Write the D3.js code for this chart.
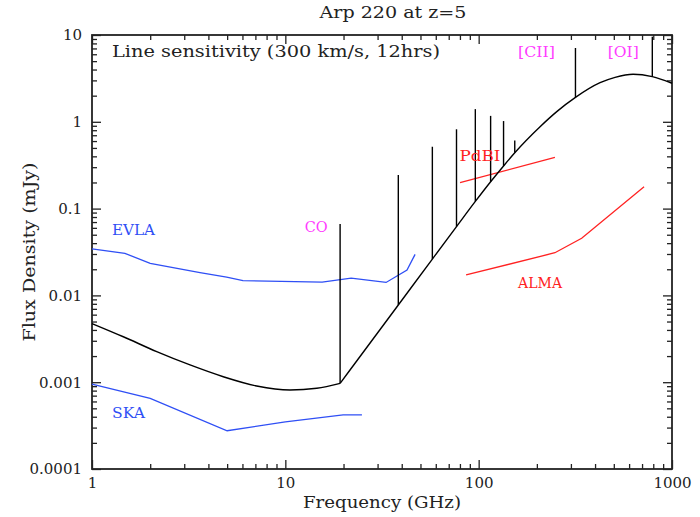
<!DOCTYPE html>
<html>
<head>
<meta charset="utf-8">
<script src="https://d3js.org/d3.v7.min.js"></script>
<style>
  body { margin: 0; background: #fff; }
  svg text { font-family: "DejaVu Serif", serif; }
</style>
</head>
<body>
<div id="chart"></div>
<script>
// continuum of Arp 220 redshifted to z=5 : [GHz, mJy]
var continuum = [
  [1, 0.00474], [1.452, 0.00334], [2.161, 0.00225], [3.214, 0.00158], [4.778, 0.001156],
  [7.11, 0.000904], [10.57, 0.000813], [14.54, 0.000851], [19.2, 0.00097],
  [38.4, 0.00776], [57.6, 0.0262], [76.8, 0.062], [96.1, 0.121], [115.3, 0.204],
  [134.5, 0.31], [153.7, 0.44], [207.8, 0.878], [253.5, 1.31], [316.7, 1.91],
  [424.6, 2.82], [507.6, 3.25], [629, 3.53], [790.9, 3.31], [1000, 2.78]
];

// line peaks : [GHz, mJy]  (CO ladder, [CII], [OI])
var lines = [
  [19.2, 0.0665], [38.4, 0.244], [57.6, 0.516], [76.8, 0.82], [96.1, 1.40],
  [115.3, 1.17], [134.5, 1.02], [153.7, 0.61], [316.7, 7.08], [790.9, 9.56]
];

var evla = [
  [1, 0.0343], [1.48, 0.0305], [2, 0.0234], [3.62, 0.0183], [4.97, 0.0162],
  [6.04, 0.0148], [15.5, 0.0142], [21.9, 0.0158], [33.2, 0.0141], [42.6, 0.0196],
  [46.9, 0.0297]
];
var ska = [[1, 0.00095], [2, 0.00065], [5, 0.000276], [10, 0.00035], [19.9, 0.00042], [24.9, 0.00042]];
var pdbi = [[80.1, 0.199], [248, 0.39]];
var alma = [[86.1, 0.0172], [248, 0.031], [341, 0.0455], [717, 0.179]];

var xMajor = [1, 10, 100, 1000];
var xLabels = ["1", "10", "100", "1000"];
var yMajor = [0.0001, 0.001, 0.01, 0.1, 1, 10];
var yLabels = ["0.0001", "0.001", "0.01", "0.1", "1", "10"];

var margin = {top: 35, right: 28, bottom: 48, left: 92},
    width = 700 - margin.left - margin.right,
    height = 517 - margin.top - margin.bottom;

var svg = d3.select("#chart").append("svg")
  .attr("width", 700)
  .attr("height", 517);

var g = svg.append("g")
  .attr("transform", "translate(" + margin.left + "," + margin.top + ")");

var x = d3.scaleLog().domain([1, 1000]).range([0, width]);
var y = d3.scaleLog().domain([0.0001, 10]).range([height, 0]);

var xMinor = x.ticks().filter(function(d) { return xMajor.indexOf(d) < 0; });
var yMinor = y.ticks().filter(function(d) { return yMajor.map(String).indexOf(String(+d.toPrecision(3))) < 0; });

function styleAxis(sel) {
  sel.select(".domain").remove();
  sel.selectAll(".tick line").attr("stroke", "#222").attr("stroke-width", 1.3);
  sel.selectAll("text").attr("fill", "#222").style("font-size", "15px")
    .style("font-family", "DejaVu Serif, serif");
}

// bottom
g.append("g").attr("transform", "translate(0," + height + ")")
  .call(d3.axisBottom(x).tickValues(xMajor).tickSize(-9).tickPadding(8)
    .tickFormat(function(d, i) { return xLabels[i]; }))
  .call(styleAxis);
g.append("g").attr("transform", "translate(0," + height + ")")
  .call(d3.axisBottom(x).tickValues(xMinor).tickSize(-5).tickFormat(""))
  .call(styleAxis);
// top
g.append("g").call(d3.axisTop(x).tickValues(xMajor).tickSize(-9).tickFormat("")).call(styleAxis);
g.append("g").call(d3.axisTop(x).tickValues(xMinor).tickSize(-5).tickFormat("")).call(styleAxis);
// left
g.append("g")
  .call(d3.axisLeft(y).tickValues(yMajor).tickSize(-9).tickPadding(10)
    .tickFormat(function(d, i) { return yLabels[i]; }))
  .call(styleAxis);
g.append("g").call(d3.axisLeft(y).tickValues(yMinor).tickSize(-5).tickFormat("")).call(styleAxis);
// right
g.append("g").attr("transform", "translate(" + width + ",0)")
  .call(d3.axisRight(y).tickValues(yMajor).tickSize(-9).tickFormat("")).call(styleAxis);
g.append("g").attr("transform", "translate(" + width + ",0)")
  .call(d3.axisRight(y).tickValues(yMinor).tickSize(-5).tickFormat("")).call(styleAxis);

// frame
g.append("rect")
  .attr("width", width).attr("height", height)
  .attr("fill", "none").attr("stroke", "#222").attr("stroke-width", 1.8);

var line = d3.line()
  .x(function(d) { return x(d[0]); })
  .y(function(d) { return y(d[1]); });

var smooth = d3.line()
  .x(function(d) { return x(d[0]); })
  .y(function(d) { return y(d[1]); })
  .curve(d3.curveMonotoneX);

var blue = "#2f4ff5", red = "#ff2222", magenta = "#ff3cff";

g.append("path").datum(evla).attr("d", line)
  .attr("fill", "none").attr("stroke", blue).attr("stroke-width", 1.3);
g.append("path").datum(ska).attr("d", line)
  .attr("fill", "none").attr("stroke", blue).attr("stroke-width", 1.3);
g.append("path").datum(pdbi).attr("d", line)
  .attr("fill", "none").attr("stroke", red).attr("stroke-width", 1.3);
g.append("path").datum(alma).attr("d", line)
  .attr("fill", "none").attr("stroke", red).attr("stroke-width", 1.3);

// continuum: dust-free part and dust part meet in a kink at the CO(1-0) line
var kink = lines[0][0];
[continuum.filter(function(d) { return d[0] <= kink; }),
 continuum.filter(function(d) { return d[0] >= kink; })].forEach(function(part) {
  g.append("path").datum(part).attr("d", smooth)
    .attr("fill", "none").attr("stroke", "#000").attr("stroke-width", 1.4);
});

g.selectAll(".spike")
  .data(lines)
  .enter().append("line")
  .attr("class", "spike")
  .attr("x1", function(d) { return x(d[0]); })
  .attr("x2", function(d) { return x(d[0]); })
  .attr("y1", function(d) {
    var c = continuum.find(function(p) { return p[0] === d[0]; });
    return y(c[1]);
  })
  .attr("y2", function(d) { return y(d[1]); })
  .attr("stroke", "#000").attr("stroke-width", 1.4);

// labels
function label(txt, fx, fy, col, len) {
  var t = g.append("text")
    .attr("x", x(fx)).attr("y", y(fy))
    .attr("fill", col).style("font-size", "15px")
    .text(txt);
  if (len) t.attr("textLength", len).attr("lengthAdjust", "spacingAndGlyphs");
  return t;
}
label("Line sensitivity (300 km/s, 12hrs)", 1.269, 5.58, "#222", 328).style("font-size", "16px");
label("EVLA", 1.269, 0.0497, blue, 43);
label("SKA", 1.269, 0.000387, blue, 33);
label("CO", 12.6, 0.0542, magenta, 23);
label("PdBI", 79.5, 0.3535, red, 41);
label("ALMA", 159.9, 0.01216, red, 44);
label("[CII]", 159.9, 5.62, magenta, 37);
label("[OI]", 465.5, 5.58, magenta, 31);

svg.append("text")
  .attr("x", 393).attr("y", 18)
  .attr("text-anchor", "middle").attr("fill", "#222")
  .attr("textLength", 147).attr("lengthAdjust", "spacingAndGlyphs")
  .style("font-size", "16px")
  .text("Arp 220 at z=5");

svg.append("text")
  .attr("x", margin.left + width / 2).attr("y", 508)
  .attr("text-anchor", "middle").attr("fill", "#222")
  .attr("textLength", 158).attr("lengthAdjust", "spacingAndGlyphs")
  .style("font-size", "16px")
  .text("Frequency (GHz)");

svg.append("text")
  .attr("transform", "translate(35," + (margin.top + height / 2) + ") rotate(-90)")
  .attr("text-anchor", "middle").attr("fill", "#222")
  .attr("textLength", 179).attr("lengthAdjust", "spacingAndGlyphs")
  .style("font-size", "16px")
  .text("Flux Density (mJy)");
</script>
</body>
</html>
